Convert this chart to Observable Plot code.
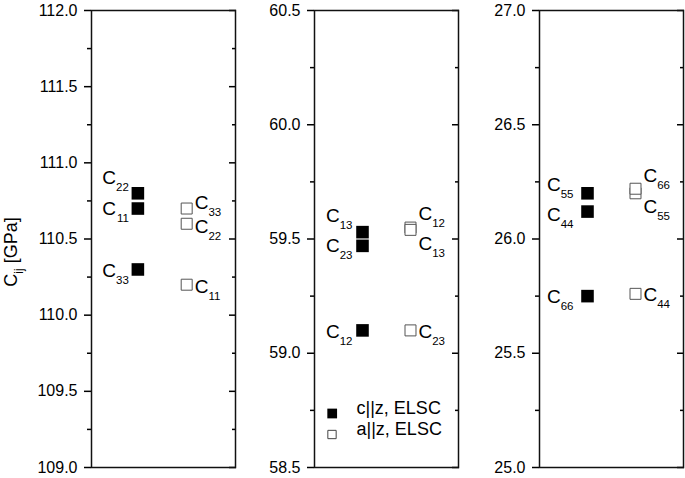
<!DOCTYPE html>
<html><head><meta charset="utf-8">
<script src="https://cdn.jsdelivr.net/npm/d3@7"></script>
<script src="https://cdn.jsdelivr.net/npm/@observablehq/plot@0.6"></script>
<style>
body{margin:0;background:#fff;}
#chart{position:relative;width:685px;height:478px;overflow:hidden;}
#chart svg{position:absolute;top:0;}
</style>
</head><body><div id="chart"></div>
<script>
// ---- data ----
const seriesNames = ["c||z, ELSC", "a||z, ELSC"];
const yDomains = [[109, 112], [58.5, 60.5], [25, 27]];
const majorTicks = [
  [109, 109.5, 110, 110.5, 111, 111.5, 112],
  [58.5, 59, 59.5, 60, 60.5],
  [25, 25.5, 26, 26.5, 27]
];
const minorTicks = [
  [109.25, 109.75, 110.25, 110.75, 111.25, 111.75],
  [58.75, 59.25, 59.75, 60.25],
  [25.25, 25.75, 26.25, 26.75]
];
const p1Names = ["11", "22", "33"];
const p1Filled = [110.7, 110.8, 110.3];
const p1Open = [110.2, 110.6, 110.7];
const p2Names = ["12", "13", "23"];
const p2Filled = [59.10, 59.53, 59.47];
const p2Open = [59.55, 59.54, 59.10];
const p3Names = ["44", "55", "66"];
const p3Filled = [26.12, 26.20, 25.75];
const p3Open = [25.76, 26.20, 26.22];

// ---- layout (not data) ----
const FONT = "'Liberation Sans', Arial, Helvetica, sans-serif";
const panels = [
  {names: p1Names, filled: p1Filled, open: p1Open, left: 0, ml: 91, mr: 3, xd: [0.05, 3.0], endOff: -9},
  {names: p2Names, filled: p2Filled, open: p2Open, left: 238, ml: 76, mr: 3, xd: [0, 3], endOff: -10},
  {names: p3Names, filled: p3Filled, open: p3Open, left: 461, ml: 78, mr: 2, xd: [0, 3], endOff: -14}
];
// baseline offset of each label relative to its marker centre (px)
const labelDy = {
  "0-0-11": 6.5, "0-0-22": -9, "0-0-33": 8,
  "0-1-11": 8, "0-1-22": 9.5, "0-1-33": 0,
  "1-0-12": 8, "1-0-13": -10, "1-0-23": 6.5,
  "1-1-12": -8, "1-1-13": 20.5, "1-1-23": 8,
  "2-0-44": 9, "2-0-55": -2.5, "2-0-66": 7,
  "2-1-44": 7, "2-1-55": 20, "2-1-66": -6.5
};
const CFS = 19, SFS = 11.5;
const subW = 2 * 0.556 * SFS, cW = 0.722 * CFS;

const chart = document.getElementById("chart");

panels.forEach((p, i) => {
  const rows = p.names.flatMap((n, j) => [
    {name: n, v: p.filled[j], s: 0},
    {name: n, v: p.open[j], s: 1}
  ]);
  const width = p.ml + 144 + p.mr;
  const marks = [
    Plot.axisY({ticks: majorTicks[i], tickSize: 7, tickPadding: 7, tickFormat: d => d.toFixed(1), label: null, strokeWidth: 1.5, fontSize: 16}),
    Plot.axisY({ticks: minorTicks[i], tickSize: 4, tickFormat: () => "", label: null, strokeWidth: 1.5}),
    Plot.axisY({anchor: "right", ticks: majorTicks[i], tickSize: -7, tickFormat: () => "", label: null, strokeWidth: 1.5}),
    Plot.axisY({anchor: "right", ticks: minorTicks[i], tickSize: -4, tickFormat: () => "", label: null, strokeWidth: 1.5}),
    Plot.frame({stroke: "#111", strokeWidth: 1.5}),
    Plot.dot(rows.filter(d => d.s === 1), {x: d => d.s + 1, y: "v", symbol: "square", r: 6.2, fill: "white", stroke: "#555", strokeWidth: 1}),
    Plot.dot(rows.filter(d => d.s === 0), {x: d => d.s + 1, y: "v", symbol: "square", r: 7.1, fill: "black", stroke: "none"})
  ];
  rows.forEach(r => {
    const dy = labelDy[`${i}-${r.s}-${r.name}`];
    const one = [r];
    if (r.s === 0) {
      marks.push(Plot.text(one, {x: d => d.s + 1, y: "v", text: () => "C", textAnchor: "end", lineAnchor: "bottom", dx: p.endOff - subW, dy: dy, fontSize: CFS, fill: "black"}));
      marks.push(Plot.text(one, {x: d => d.s + 1, y: "v", text: "name", textAnchor: "end", lineAnchor: "bottom", dx: p.endOff, dy: dy + 7, fontSize: SFS, fill: "black"}));
    } else {
      marks.push(Plot.text(one, {x: d => d.s + 1, y: "v", text: () => "C", textAnchor: "start", lineAnchor: "bottom", dx: 8, dy: dy, fontSize: CFS, fill: "black"}));
      marks.push(Plot.text(one, {x: d => d.s + 1, y: "v", text: "name", textAnchor: "start", lineAnchor: "bottom", dx: 8 + cW, dy: dy + 7, fontSize: SFS, fill: "black"}));
    }
  });
  if (i === 1) {
    marks.push(Plot.dot([seriesNames[0]], {frameAnchor: "bottom-left", dx: 17.7, dy: -54, symbol: "square", r: 5.5, fill: "black"}));
    marks.push(Plot.dot([seriesNames[1]], {frameAnchor: "bottom-left", dx: 17.5, dy: -33, symbol: "square", r: 4.7, fill: "white", stroke: "#444", strokeWidth: 1}));
    marks.push(Plot.text([seriesNames[0]], {frameAnchor: "bottom-left", dx: 42, dy: -54, text: d => d, textAnchor: "start", fontSize: 18, fill: "black"}));
    marks.push(Plot.text([seriesNames[1]], {frameAnchor: "bottom-left", dx: 42, dy: -33, text: d => d, textAnchor: "start", fontSize: 18, fill: "black"}));
  }
  const svg = Plot.plot({
    width, height: 478,
    marginLeft: p.ml, marginRight: p.mr, marginTop: 10, marginBottom: 11,
    x: {domain: p.xd, axis: null},
    y: {domain: yDomains[i], nice: false, axis: null},
    style: {fontFamily: FONT, fontSize: "16px", color: "black", background: "transparent", overflow: "visible"},
    marks
  });
  svg.style.left = p.left + "px";
  chart.appendChild(svg);
  if (i === 0) {
    const t = d3.select(svg).append("text")
      .attr("transform", "translate(17,252) rotate(-90)")
      .attr("text-anchor", "middle")
      .attr("font-size", 18)
      .attr("font-family", FONT)
      .attr("fill", "black");
    t.append("tspan").text("C");
    t.append("tspan").attr("dy", 6).attr("font-size", 12).text("ij");
    t.append("tspan").attr("dy", -6).text(" [GPa]");
  }
});
</script>
</body></html>
